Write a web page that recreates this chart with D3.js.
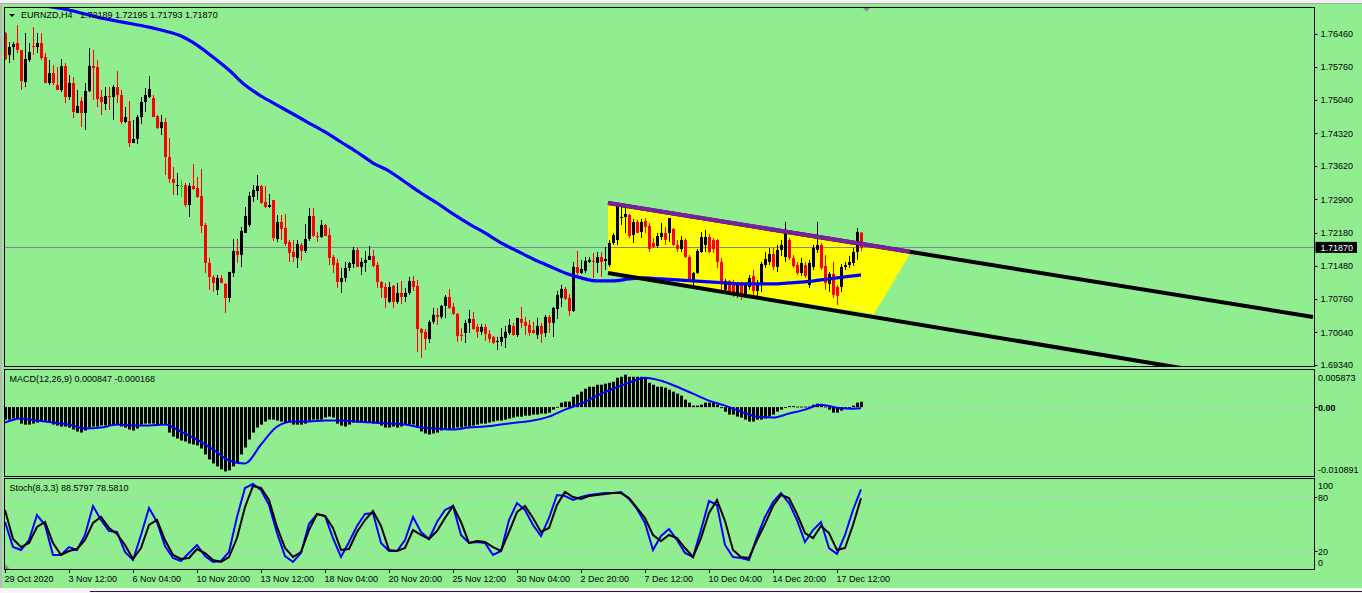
<!DOCTYPE html>
<html><head><meta charset="utf-8">
<script src="https://d3js.org/d3.v7.min.js"></script>
<style>
html,body{margin:0;padding:0;background:#90EE90;overflow:hidden}
svg{display:block}
text{font-family:"Liberation Sans",Arial,sans-serif;font-size:9px;fill:#000}
</style></head>
<body><svg id="c" width="1362" height="593"></svg>
<script>
// ---------------- DATA ----------------
const symbolTitle = "EURNZD,H4";
const headerValues = ["1.72189", "1.72195", "1.71793", "1.71870"];
const bidPrice = 1.71870;
const priceTicks = [1.76460, 1.75760, 1.75040, 1.74320, 1.73620, 1.72900, 1.72180, 1.71480, 1.70760, 1.70040, 1.69340];
const timeLabels = ["29 Oct 2020", "3 Nov 12:00", "6 Nov 04:00", "10 Nov 20:00", "13 Nov 12:00", "18 Nov 04:00", "20 Nov 20:00",
  "25 Nov 12:00", "30 Nov 04:00", "2 Dec 20:00", "7 Dec 12:00", "10 Dec 04:00", "14 Dec 20:00", "17 Dec 12:00"];
const barsPerLabel = 16;
const macdLabel = "MACD(12,26,9) 0.000847 -0.000168";
const macdRange = [-0.010891, 0.005873];
const stochLabel = "Stoch(8,3,3) 88.5797 78.5810";
const stochLevels = [80, 20];

const openP = [1.76480,1.76007,1.76179,1.76265,1.76115,1.75427,1.75900,1.76201,1.76179,1.76265,
1.75964,1.75405,1.75620,1.75362,1.75255,1.75771,1.75104,1.75405,1.74760,1.75018,
1.74760,1.75233,1.75771,1.75749,1.75104,1.74954,1.75126,1.75104,1.75319,1.75147,
1.74567,1.74588,1.74115,1.74201,1.74674,1.74997,1.75104,1.75083,1.74696,1.74438,
1.74567,1.73814,1.73341,1.73191,1.73191,1.73212,1.72782,1.73191,1.73148,1.72976,
1.72352,1.71535,1.71234,1.70955,1.71213,1.71084,1.70783,1.71320,1.71793,1.71707,
1.72180,1.72352,1.72954,1.73083,1.73191,1.72847,1.72739,1.72890,1.72051,1.72417,
1.72288,1.71987,1.71772,1.71643,1.71922,1.71793,1.72051,1.72546,1.72116,1.72094,
1.72352,1.72137,1.71664,1.71535,1.71127,1.71213,1.71428,1.71514,1.71815,1.71449,
1.71535,1.71600,1.71686,1.71492,1.71127,1.71019,1.70697,1.71041,1.70697,1.70890,
1.70804,1.70890,1.71148,1.71041,1.70116,1.70052,1.69901,1.70267,1.70418,1.70374,
1.70611,1.70804,1.70589,1.70439,1.69987,1.70030,1.70245,1.70331,1.70159,1.70052,
1.70159,1.70009,1.69944,1.69837,1.69837,1.69923,1.70030,1.70181,1.69987,1.70331,
1.70267,1.70202,1.70095,1.69987,1.70181,1.70030,1.70374,1.70245,1.70546,1.70783,
1.70976,1.70783,1.70503,1.71449,1.71320,1.71363,1.71557,1.71578,1.71535,1.71664,
1.71578,1.71492,1.71965,1.72030,1.72503,1.72525,1.72567,1.72137,1.72417,1.72202,
1.72438,1.72331,1.71965,1.71901,1.72094,1.72180,1.72180,1.72266,1.71922,1.71836,
1.72030,1.71664,1.71170,1.71320,1.71772,1.71922,1.72094,1.72030,1.72030,1.71557,
1.70955,1.71148,1.71084,1.70847,1.71084,1.70826,1.71019,1.71256,1.70933,1.71062,
1.71492,1.71557,1.71729,1.71449,1.71815,1.71664,1.72030,1.71643,1.71492,1.71320,
1.71492,1.71062,1.71449,1.71815,1.71922,1.71471,1.71084,1.71299,1.71019,1.71019,
1.71449,1.71492,1.71535,1.71772,1.72189];

const highP = [1.76502,1.76287,1.76287,1.76652,1.76115,1.76480,1.76265,1.76609,1.76480,1.76480,
1.76050,1.75900,1.75792,1.75749,1.75921,1.75835,1.75577,1.75534,1.75255,1.75104,
1.75405,1.76158,1.76115,1.75900,1.75255,1.75319,1.75319,1.75362,1.75663,1.75255,
1.74889,1.75018,1.74610,1.74717,1.75104,1.75298,1.75556,1.75147,1.74717,1.74717,
1.74653,1.74223,1.73599,1.73470,1.73320,1.73255,1.73255,1.73664,1.73384,1.73556,
1.72395,1.71643,1.71277,1.71277,1.71277,1.71105,1.71342,1.72051,1.72051,1.72309,
1.72740,1.73062,1.73212,1.73427,1.73212,1.73191,1.73019,1.72890,1.72567,1.72567,
1.72589,1.72030,1.72030,1.72030,1.71965,1.72374,1.72718,1.72718,1.72202,1.72460,
1.72374,1.72288,1.71707,1.71621,1.71428,1.71557,1.71557,1.71879,1.71858,1.71643,
1.71793,1.71901,1.71815,1.71557,1.71148,1.71105,1.71127,1.71062,1.71105,1.71148,
1.70998,1.71234,1.71256,1.71170,1.70138,1.70116,1.70310,1.70568,1.70568,1.70632,
1.70847,1.70976,1.70675,1.70460,1.70138,1.70310,1.70525,1.70482,1.70224,1.70224,
1.70224,1.70095,1.69966,1.69944,1.70138,1.70181,1.70331,1.70245,1.70353,1.70589,
1.70374,1.70310,1.70267,1.70353,1.70245,1.70418,1.70418,1.70589,1.70933,1.71062,
1.71019,1.70869,1.71557,1.71793,1.71600,1.71664,1.71664,1.71750,1.71772,1.71772,
1.71879,1.72030,1.72180,1.72825,1.72782,1.72782,1.72589,1.72481,1.72460,1.72481,
1.72503,1.72395,1.72073,1.72180,1.72395,1.72309,1.72503,1.72288,1.72030,1.72116,
1.72073,1.71707,1.71342,1.71836,1.72202,1.72245,1.72159,1.72073,1.72051,1.71643,
1.71191,1.71170,1.71170,1.71127,1.71127,1.71105,1.71277,1.71385,1.71170,1.71557,
1.71772,1.71858,1.71858,1.71922,1.72030,1.72417,1.72073,1.71707,1.71557,1.71643,
1.71557,1.71600,1.71922,1.72417,1.71965,1.71707,1.71342,1.71557,1.71062,1.71514,
1.71557,1.71686,1.71858,1.72288,1.72195];

const lowP = [1.75900,1.75835,1.75900,1.76050,1.75255,1.75319,1.75857,1.76007,1.76050,1.75900,
1.75405,1.75362,1.75362,1.75255,1.75212,1.74975,1.75040,1.74653,1.74760,1.74459,
1.74395,1.75212,1.75040,1.74889,1.74717,1.74825,1.74825,1.74610,1.74975,1.74524,
1.74545,1.74029,1.74115,1.74094,1.74524,1.74782,1.75083,1.74674,1.74417,1.74287,
1.73427,1.73255,1.72997,1.72997,1.72954,1.72740,1.72525,1.73105,1.72933,1.72180,
1.71320,1.70955,1.70912,1.70847,1.71105,1.70460,1.70697,1.71234,1.71535,1.71449,
1.72180,1.72309,1.72847,1.72890,1.72804,1.72718,1.72718,1.72008,1.71987,1.72030,
1.71901,1.71557,1.71557,1.71428,1.71578,1.71750,1.72008,1.72094,1.71987,1.72073,
1.72116,1.71492,1.71320,1.70998,1.70890,1.71127,1.71363,1.71428,1.71449,1.71277,
1.71342,1.71600,1.71449,1.70998,1.70783,1.70568,1.70675,1.70568,1.70654,1.70654,
1.70697,1.70847,1.70933,1.69622,1.69493,1.69665,1.69815,1.70224,1.70202,1.70331,
1.70353,1.70546,1.70418,1.69837,1.69858,1.69815,1.70030,1.70095,1.69923,1.69987,
1.69858,1.69815,1.69794,1.69665,1.69751,1.69708,1.69987,1.69966,1.69944,1.70138,
1.69987,1.69966,1.70009,1.69901,1.69815,1.69944,1.70030,1.69944,1.70331,1.70589,
1.70740,1.70396,1.70482,1.71277,1.71299,1.71320,1.71535,1.71213,1.71320,1.71234,
1.71385,1.71449,1.71922,1.71922,1.72352,1.72180,1.72073,1.71965,1.72180,1.72073,
1.72180,1.71772,1.71858,1.71858,1.72030,1.71922,1.71987,1.71901,1.71772,1.71772,
1.71643,1.71148,1.71062,1.71299,1.71750,1.71772,1.71750,1.71750,1.71428,1.70955,
1.70890,1.70847,1.70804,1.70783,1.70740,1.70783,1.70955,1.70847,1.70826,1.70912,
1.71428,1.71492,1.71385,1.71342,1.71686,1.71557,1.71600,1.71428,1.71277,1.71256,
1.71213,1.70998,1.71385,1.71750,1.71385,1.70955,1.70912,1.70783,1.70633,1.70912,
1.71385,1.71428,1.71471,1.71600,1.71793];

const closeP = [1.75921,1.76179,1.76244,1.76115,1.75448,1.75921,1.76072,1.76179,1.76265,1.75943,
1.75405,1.75620,1.75405,1.75255,1.75771,1.75104,1.75405,1.74782,1.74911,1.74760,
1.75233,1.75771,1.75728,1.75061,1.74997,1.75126,1.75104,1.75319,1.75147,1.74567,
1.74674,1.74115,1.74201,1.74674,1.74997,1.75147,1.75276,1.74674,1.74438,1.74567,
1.73814,1.73341,1.73255,1.73212,1.73191,1.72782,1.73191,1.73126,1.72954,1.72331,
1.71535,1.71234,1.71105,1.71213,1.71105,1.70783,1.71342,1.71793,1.71707,1.72223,
1.72546,1.72976,1.73105,1.73191,1.72825,1.72739,1.72782,1.72073,1.72417,1.72266,
1.71944,1.71750,1.71664,1.71944,1.71793,1.72051,1.72546,1.72116,1.72094,1.72352,
1.72116,1.71643,1.71492,1.71127,1.71213,1.71428,1.71535,1.71815,1.71449,1.71557,
1.71600,1.71686,1.71471,1.71127,1.70998,1.70783,1.71019,1.70697,1.70890,1.70804,
1.70890,1.71148,1.71019,1.70116,1.70030,1.69901,1.70267,1.70418,1.70374,1.70611,
1.70804,1.70568,1.70439,1.69966,1.69966,1.70245,1.70331,1.70116,1.70052,1.70159,
1.70009,1.69901,1.69815,1.69858,1.69944,1.70052,1.70202,1.69987,1.70353,1.70245,
1.70181,1.70030,1.70030,1.70181,1.70009,1.70374,1.70245,1.70568,1.70847,1.70976,
1.70761,1.70503,1.71449,1.71320,1.71406,1.71578,1.71600,1.71557,1.71664,1.71557,
1.71621,1.71965,1.72137,1.72782,1.72525,1.72589,1.72116,1.72417,1.72180,1.72417,
1.72309,1.71836,1.71879,1.72116,1.72180,1.72030,1.72503,1.71922,1.71836,1.72030,
1.71664,1.71170,1.71320,1.71793,1.72094,1.72094,1.71772,1.71836,1.71557,1.71105,
1.71148,1.70912,1.70890,1.71084,1.70826,1.71062,1.71213,1.70933,1.71105,1.71514,
1.71621,1.71729,1.71449,1.71815,1.71922,1.72180,1.71643,1.71471,1.71320,1.71535,
1.71256,1.71535,1.71858,1.71922,1.71428,1.71105,1.71299,1.70847,1.70826,1.71449,
1.71492,1.71557,1.71772,1.72202,1.71870];

// moving average, read every 4th bar (last value = last bar)
const maValues = [1.77233,1.77147,1.77082,1.77039,1.76975,1.76889,1.76803,1.76738,1.76674,1.76609,
1.76523,1.76416,1.76222,1.75964,1.75685,1.75362,1.75126,1.74932,1.74739,1.74545,
1.74352,1.74137,1.73922,1.73685,1.73513,1.73277,1.73040,1.72825,1.72589,1.72374,
1.72180,1.71965,1.71793,1.71621,1.71471,1.71320,1.71213,1.71148,1.71148,1.71191,
1.71213,1.71191,1.71170,1.71148,1.71127,1.71105,1.71084,1.71084,1.71084,1.71105,
1.71127,1.71170,1.71213,1.71256,1.71277];

// MACD main (histogram), one per bar
const macdMain = [-0.00197,-0.00197,-0.00181,-0.00181,-0.00260,-0.00276,-0.00276,-0.00260,-0.00244,-0.00228,
-0.00228,-0.00244,-0.00276,-0.00291,-0.00307,-0.00307,-0.00323,-0.00354,-0.00386,-0.00402,
-0.00370,-0.00323,-0.00307,-0.00307,-0.00291,-0.00291,-0.00291,-0.00276,-0.00276,-0.00307,
-0.00323,-0.00354,-0.00370,-0.00339,-0.00276,-0.00260,-0.00260,-0.00260,-0.00276,-0.00276,
-0.00276,-0.00402,-0.00465,-0.00496,-0.00528,-0.00543,-0.00575,-0.00591,-0.00606,-0.00654,
-0.00748,-0.00827,-0.00890,-0.00937,-0.00984,-0.01016,-0.01000,-0.00937,-0.00874,-0.00748,
-0.00638,-0.00512,-0.00402,-0.00323,-0.00276,-0.00228,-0.00197,-0.00197,-0.00213,-0.00228,
-0.00244,-0.00244,-0.00276,-0.00276,-0.00276,-0.00260,-0.00213,-0.00197,-0.00197,-0.00197,
-0.00165,-0.00150,-0.00165,-0.00260,-0.00291,-0.00307,-0.00276,-0.00244,-0.00244,-0.00244,
-0.00244,-0.00244,-0.00260,-0.00260,-0.00291,-0.00323,-0.00323,-0.00307,-0.00323,-0.00307,
-0.00276,-0.00276,-0.00276,-0.00323,-0.00386,-0.00417,-0.00433,-0.00417,-0.00402,-0.00370,
-0.00354,-0.00354,-0.00339,-0.00323,-0.00323,-0.00307,-0.00307,-0.00291,-0.00276,-0.00260,
-0.00260,-0.00244,-0.00228,-0.00213,-0.00213,-0.00197,-0.00181,-0.00165,-0.00150,-0.00150,
-0.00134,-0.00134,-0.00118,-0.00118,-0.00102,-0.00102,-0.00087,-0.00039,0.00005,0.00071,
0.00087,0.00087,0.00165,0.00197,0.00244,0.00291,0.00323,0.00323,0.00354,0.00354,
0.00370,0.00386,0.00402,0.00465,0.00480,0.00512,0.00480,0.00480,0.00480,0.00480,
0.00465,0.00386,0.00354,0.00323,0.00323,0.00307,0.00276,0.00244,0.00213,0.00181,
0.00118,0.00071,0.00024,0.00024,0.00039,0.00071,0.00071,0.00071,0.00039,-0.00016,
-0.00071,-0.00118,-0.00118,-0.00150,-0.00165,-0.00197,-0.00228,-0.00228,-0.00197,-0.00197,
-0.00181,-0.00150,-0.00118,-0.00071,-0.00039,-0.00005,0.00016,0.00016,0.00008,0.00008,
0.00008,0.00008,0.00039,0.00055,0.00039,0.00008,-0.00039,-0.00087,-0.00087,-0.00055,
-0.00024,-0.00008,0.00024,0.00071,0.000847];

// MACD signal, read every 4th bar (last value = last bar)
const macdSignal = [-0.00244,-0.00181,-0.00213,-0.00244,-0.00276,-0.00339,-0.00323,-0.00276,-0.00291,-0.00291,
-0.00276,-0.00386,-0.00512,-0.00669,-0.00843,-0.00890,-0.00591,-0.00307,-0.00228,-0.00228,
-0.00213,-0.00213,-0.00228,-0.00244,-0.00260,-0.00276,-0.00323,-0.00339,-0.00354,-0.00323,
-0.00307,-0.00276,-0.00244,-0.00213,-0.00150,-0.00039,0.00055,0.00181,0.00291,0.00386,
0.00465,0.00417,0.00323,0.00213,0.00102,0.00024,-0.00071,-0.00150,-0.00165,-0.00102,
-0.00039,0.00039,-0.00008,-0.00024,-0.000168];

// Stochastic, read every 2nd bar
const stochK = [52.2,24.4,21.1,32.2,60.0,48.9,15.6,15.6,24.4,21.1,
37.8,70.0,54.4,42.2,41.1,18.9,10.0,37.8,67.8,52.2,
25.6,12.2,8.9,17.8,26.7,14.4,7.8,8.9,18.9,57.8,
90.0,94.4,87.8,71.1,40.0,14.4,7.8,17.8,50.0,61.1,
58.9,34.4,13.3,30.0,47.8,61.1,62.2,28.9,20.0,20.0,
32.2,57.8,41.1,33.3,52.2,65.6,70.0,37.8,28.9,30.0,
28.9,15.6,20.0,54.4,73.3,65.6,48.9,36.7,56.7,82.2,
81.1,76.7,80.0,82.2,83.3,84.4,84.4,85.6,77.8,66.7,
51.1,21.1,36.7,44.4,32.2,17.8,13.3,43.3,75.6,71.1,
26.7,13.3,12.2,10.0,35.6,57.8,74.4,84.4,73.3,54.4,
30.0,43.3,52.2,23.3,16.7,37.8,65.6,88.58];
const stochD = [65.6,33.3,24.4,28.9,46.7,52.2,28.9,15.6,20.0,22.2,
32.2,51.1,57.8,45.6,38.9,26.7,11.1,23.3,48.9,54.4,
32.2,15.6,11.1,12.2,22.2,17.8,10.0,7.8,13.3,34.4,
68.9,92.2,90.0,76.7,46.7,23.3,13.3,18.9,43.3,61.1,
58.9,45.6,21.1,22.2,41.1,54.4,64.4,47.8,21.1,20.0,
23.3,43.3,37.8,33.3,42.2,56.7,70.0,52.2,28.9,31.1,
30.0,24.4,20.0,41.1,63.3,70.0,56.7,41.1,45.6,71.1,
85.6,80.0,77.8,81.1,82.2,83.3,84.4,84.4,78.9,67.8,
56.7,37.8,31.1,37.8,34.4,23.3,13.3,34.4,62.2,76.7,
53.3,21.1,13.3,12.2,32.2,50.0,70.0,82.2,78.9,61.1,
40.0,34.4,47.8,40.0,21.1,23.3,48.9,78.58];

// drawn objects, in (bar index, price)
const channelUpper = [[150.75, 1.72825], [327, 1.70374]];
const channelLower = [[150.75, 1.71320], [327, 1.68805]];
const purpleSegment = [[150.75, 1.72825], [226.25, 1.71776]];
const yellowShape = [[150.75, 1.72825], [226.5, 1.71772], [217.25, 1.70439], [150.75, 1.71320]];
const dottedEdges = [[[150.75, 1.72825], [217, 1.70439]], [[203.75, 1.70976], [217, 1.70439]]];

// ---------------- DRAW ----------------
const W = 1362, H = 593;
const svg = d3.select("#c");
const nBars = openP.length;
const lastIdx = nBars - 1;

const x = d3.scaleLinear().domain([0, 327]).range([5, 1313]);
const yP = d3.scaleLinear().domain([1.69340, 1.76460]).range([365, 34]);
const yM = d3.scaleLinear().domain(macdRange).range([476, 370]);
const yS = d3.scaleLinear().domain([0, 100]).range([569, 479]);

const L = 4.5, R = 1314.5;
const panels = [
  {id: "pMain", top: 7.5, bottom: 366.5},
  {id: "pMacd", top: 369.5, bottom: 476.5},
  {id: "pStoch", top: 478.5, bottom: 569.5}
];

svg.append("rect").attr("width", W).attr("height", H).attr("fill", "#90EE90");
// window chrome
svg.append("rect").attr("x", 0).attr("y", 0).attr("width", W).attr("height", 3).attr("fill", "#f2f2f2");
svg.append("line").attr("x1", 0).attr("x2", W).attr("y1", 3.5).attr("y2", 3.5).attr("stroke", "#a8a8a8");
svg.append("rect").attr("x", 0).attr("y", 588).attr("width", W).attr("height", 5).attr("fill", "#f6f6f6");
svg.append("line").attr("x1", 90).attr("x2", W).attr("y1", 591.5).attr("y2", 591.5).attr("stroke", "#202020");
svg.append("rect").attr("x", 0).attr("y", 3).attr("width", 2).attr("height", 585).attr("fill", "#b8b8b8");

const defs = svg.append("defs");
panels.forEach(p => {
  defs.append("clipPath").attr("id", p.id + "clip").append("rect")
    .attr("x", L).attr("y", p.top).attr("width", R - L).attr("height", p.bottom - p.top);
});
const gMain = svg.append("g").attr("clip-path", "url(#pMainclip)");
const gMacd = svg.append("g").attr("clip-path", "url(#pMacdclip)");
const gStoch = svg.append("g").attr("clip-path", "url(#pStochclip)");

// ----- main panel -----
const pt = d => [x(d[0]), yP(d[1])];
gMain.append("path").attr("d", "M" + yellowShape.map(pt).join("L") + "Z").attr("fill", "#FFFF00");
dottedEdges.forEach(e => {
  gMain.append("path").attr("d", "M" + e.map(pt).join("L"))
    .attr("stroke", "#c8f4f0").attr("stroke-width", 1).attr("stroke-dasharray", "1,2").attr("fill", "none");
});
// bid line
gMain.append("line").attr("x1", L).attr("x2", R).attr("y1", Math.round(yP(bidPrice)) + 0.5).attr("y2", Math.round(yP(bidPrice)) + 0.5)
  .attr("stroke", "#7f8796").attr("stroke-width", 1);

// header
svg.append("path").attr("d", "M9,14L15,14L12,17Z").attr("fill", "#000");
svg.append("text").attr("x", 21).attr("y", 18.2).text(symbolTitle);
svg.append("text").attr("x", 80).attr("y", 18.2).text(headerValues.join(" "));

// candles
const idx = d3.range(nBars);
const candleColor = i => closeP[i] > openP[i] ? "#000000" : (closeP[i] < openP[i] ? "#FF0000" : "#00E000");
const gC = gMain.append("g");
gC.selectAll("line.w").data(idx).join("line")
  .attr("x1", i => Math.round(x(i)) + 0.5).attr("x2", i => Math.round(x(i)) + 0.5)
  .attr("y1", i => yP(highP[i])).attr("y2", i => yP(lowP[i]))
  .attr("stroke", candleColor).attr("stroke-width", 1);
gC.selectAll("rect.b").data(idx).join("rect")
  .attr("x", i => Math.round(x(i)) - 1).attr("width", 3)
  .attr("y", i => yP(Math.max(openP[i], closeP[i])))
  .attr("height", i => Math.max(1, Math.abs(yP(openP[i]) - yP(closeP[i]))))
  .attr("fill", candleColor);

// moving average
const sampledIdx = (arr, step) => arr.map((v, k) => [Math.min(k * step, lastIdx), v]);
const maLine = d3.line().x(d => x(d[0])).y(d => yP(d[1])).curve(d3.curveMonotoneX);
gMain.append("path").attr("d", maLine(sampledIdx(maValues, 4))).attr("fill", "none")
  .attr("stroke", "#0000FF").attr("stroke-width", 3.2).attr("stroke-linejoin", "round");

// channel lines
[channelUpper, channelLower].forEach(ln => {
  gMain.append("path").attr("d", "M" + ln.map(pt).join("L")).attr("stroke", "#000").attr("stroke-width", 4).attr("fill", "none");
});
gMain.append("path").attr("d", "M" + purpleSegment.map(pt).join("L")).attr("stroke", "#7B1FA2").attr("stroke-width", 4.2).attr("fill", "none");

// chart shift marker
svg.append("path").attr("d", "M862,7L871,7L866.5,11.5Z").attr("fill", "#8a8a8a");

// ----- MACD panel -----
gMacd.append("line").attr("x1", L).attr("x2", R).attr("y1", Math.round(yM(0)) + 0.5).attr("y2", Math.round(yM(0)) + 0.5)
  .attr("stroke", "#c4c4c4").attr("stroke-dasharray", "3,2");
gMacd.selectAll("rect.h").data(idx).join("rect")
  .attr("x", i => Math.round(x(i)) - 1).attr("width", 3)
  .attr("y", i => Math.min(yM(0), yM(macdMain[i])))
  .attr("height", i => Math.max(0.8, Math.abs(yM(macdMain[i]) - yM(0))))
  .attr("fill", "#000");
const sigLine = d3.line().x(d => x(d[0])).y(d => yM(d[1])).curve(d3.curveMonotoneX);
gMacd.append("path").attr("d", sigLine(sampledIdx(macdSignal, 4))).attr("fill", "none")
  .attr("stroke", "#0000FF").attr("stroke-width", 2);

// ----- Stoch panel -----
stochLevels.forEach(v => {
  gStoch.append("line").attr("x1", L).attr("x2", R).attr("y1", Math.round(yS(v)) + 0.5).attr("y2", Math.round(yS(v)) + 0.5)
    .attr("stroke", "#c4c4c4").attr("stroke-dasharray", "3,2");
});
const stLine = d3.line().x(d => x(d[0])).y(d => yS(d[1]));
gStoch.append("path").attr("d", stLine(sampledIdx(stochK, 2))).attr("fill", "none").attr("stroke", "#0000FF").attr("stroke-width", 2);
gStoch.append("path").attr("d", stLine(sampledIdx(stochD, 2))).attr("fill", "none").attr("stroke", "#000").attr("stroke-width", 2);
svg.append("path").attr("d", "M5,564L5,569L10,569Z").attr("fill", "#8a8a8a");

// panel borders
panels.forEach(p => {
  svg.append("rect").attr("x", L).attr("y", p.top).attr("width", R - L).attr("height", p.bottom - p.top)
    .attr("fill", "none").attr("stroke", "#000").attr("stroke-width", 1);
});

// labels
svg.append("text").attr("x", 9.5).attr("y", 381.5).text(macdLabel);
svg.append("text").attr("x", 9.5).attr("y", 490.5).text(stochLabel);

// price axis
const gAx = svg.append("g");
priceTicks.forEach(v => {
  const yy = Math.round(yP(v)) + 0.5;
  gAx.append("line").attr("x1", R).attr("x2", R + 3).attr("y1", yy).attr("y2", yy).attr("stroke", "#000");
  gAx.append("text").attr("x", 1320.5).attr("y", yP(v) + 3.2).text(v.toFixed(5));
});
// bid label
const by = yP(bidPrice);
gAx.append("rect").attr("x", 1315.5).attr("y", by - 5.5).attr("width", 41.5).attr("height", 11).attr("fill", "#000");
gAx.append("text").attr("x", 1320.5).attr("y", by + 3.2).style("fill", "#fff").text(bidPrice.toFixed(5));

// MACD axis
gAx.append("text").attr("x", 1318).attr("y", yM(macdRange[1]) + 11).text(macdRange[1].toFixed(6));
gAx.append("text").attr("x", 1318).attr("y", yM(macdRange[0]) - 3).text(macdRange[0].toFixed(6));
gAx.append("line").attr("x1", R).attr("x2", R + 3).attr("y1", Math.round(yM(0)) + 0.5).attr("y2", Math.round(yM(0)) + 0.5).attr("stroke", "#000");
gAx.append("text").attr("x", 1318).attr("y", yM(0) + 3.7).style("font-weight", "bold").text((0).toFixed(2));

// Stoch axis
[[100, 10], [80, 3.5], [20, 3.5], [0, -3.5]].forEach(([v, off]) => {
  gAx.append("text").attr("x", 1318).attr("y", yS(v) + off).text(v);
});
stochLevels.forEach(v => {
  gAx.append("line").attr("x1", R).attr("x2", R + 3).attr("y1", Math.round(yS(v)) + 0.5).attr("y2", Math.round(yS(v)) + 0.5).attr("stroke", "#000");
});

// time axis
timeLabels.forEach((t, k) => {
  const xx = Math.round(x(k * barsPerLabel)) + 0.5;
  gAx.append("line").attr("x1", xx).attr("x2", xx).attr("y1", 569.5).attr("y2", 573).attr("stroke", "#000");
  gAx.append("text").attr("x", xx - 1).attr("y", 581.7).text(t);
});
</script>
</body></html>
